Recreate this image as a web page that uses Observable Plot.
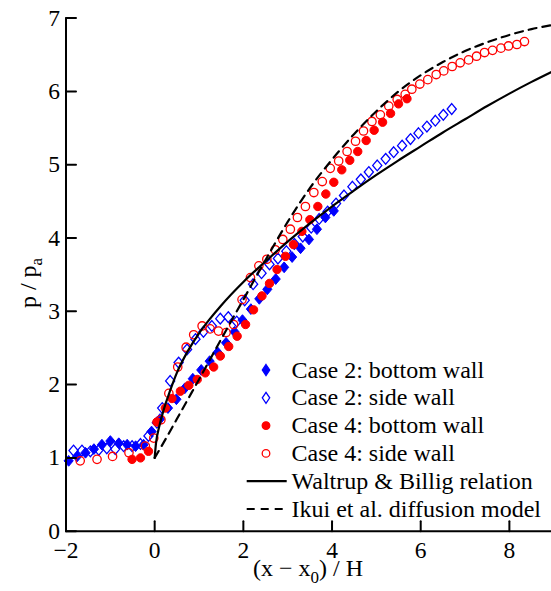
<!DOCTYPE html>
<html><head><meta charset="utf-8">
<script src="https://cdn.jsdelivr.net/npm/d3@7"></script>
<script src="https://cdn.jsdelivr.net/npm/@observablehq/plot@0.6"></script>
<style>
html,body{margin:0;padding:0;background:#fff;}
#wrap{position:relative;width:551px;height:591px;overflow:hidden;}
</style></head><body><div id="wrap"></div>
<script>
// ---- data ----
const xTicks = [-2, 0, 2, 4, 6, 8];
const yTicks = [0, 1, 2, 3, 4, 5, 6, 7];

const c2BottomX = [-1.94,-1.75,-1.56,-1.37,-1.19,-1.0,-0.81,-0.62,-0.43,-0.25,-0.07,0.12,0.3,0.49,0.68,0.86,1.05,1.24,1.42,1.61,1.8,1.98,2.17,2.36,2.54,2.73,2.92,3.1,3.29,3.48,3.66,3.85,4.04];
const c2BottomY = [0.96,1.02,1.07,1.12,1.18,1.23,1.2,1.18,1.16,1.18,1.36,1.53,1.68,1.8,1.95,2.08,2.2,2.32,2.44,2.57,2.72,2.88,3.03,3.17,3.3,3.44,3.6,3.74,3.86,3.98,4.12,4.28,4.37];

const c2SideX = [-1.83,-1.64,-1.45,-1.26,-1.08,-0.89,-0.7,-0.51,-0.32,-0.14,0.05,0.17,0.35,0.54,0.73,0.92,1.1,1.29,1.48,1.66,1.85,2.03,2.22,2.41,2.59,2.78,2.97,3.15,3.34,3.53,3.71,3.9,4.09,4.27,4.46,4.65,4.83,5.02,5.21,5.39,5.58,5.77,5.95,6.14,6.33,6.51,6.7];
const c2SideY = [1.1,1.1,1.09,1.11,1.13,1.12,1.16,1.16,1.19,1.3,1.48,1.68,2.05,2.3,2.48,2.62,2.72,2.8,2.9,2.92,2.86,3.15,3.37,3.52,3.64,3.72,3.82,3.92,4.02,4.14,4.26,4.36,4.47,4.58,4.7,4.8,4.9,4.99,5.08,5.17,5.26,5.35,5.43,5.52,5.6,5.68,5.76];

const c4BottomX = [-0.51,-0.32,-0.14,0.05,0.24,0.39,0.58,0.77,0.96,1.14,1.33,1.48,1.67,1.86,2.05,2.23,2.42,2.59,2.76,2.95,3.13,3.32,3.5,3.68,3.86,4.04,4.22,4.4,4.58,4.77,4.95,5.14,5.32,5.5,5.69];
const c4BottomY = [0.98,1.0,1.09,1.49,1.68,1.81,1.91,1.99,2.07,2.16,2.24,2.39,2.52,2.66,2.82,3.02,3.21,3.38,3.57,3.75,3.91,4.09,4.25,4.43,4.6,4.76,4.93,5.06,5.18,5.33,5.47,5.58,5.7,5.83,5.9];

const c4SideX = [-1.68,-1.3,-0.95,-0.58,-0.21,-0.02,0.14,0.32,0.52,0.71,0.88,1.07,1.25,1.44,1.61,1.78,1.97,2.16,2.35,2.53,2.72,2.89,3.06,3.22,3.4,3.59,3.78,3.96,4.15,4.34,4.53,4.71,4.9,5.09,5.28,5.47,5.65,5.8,5.98,6.16,6.35,6.52,6.71,6.89,7.08,7.26,7.44,7.62,7.81,7.98,8.17,8.34];
const c4SideY = [0.96,0.98,1.02,1.07,1.16,1.27,1.52,1.88,2.24,2.51,2.68,2.8,2.76,2.73,2.71,2.82,3.16,3.46,3.62,3.71,3.84,3.98,4.12,4.28,4.43,4.62,4.77,4.95,5.05,5.18,5.32,5.46,5.59,5.68,5.8,5.89,5.96,6.03,6.1,6.16,6.23,6.28,6.34,6.39,6.43,6.48,6.53,6.56,6.59,6.62,6.64,6.68];

const waltrupX = [0,0.03,0.1,0.2,0.35,0.5,0.75,1,1.25,1.5,2,2.5,3,3.5,4,4.5,5,5.5,6,6.5,7,7.5,8,8.5,9];
const waltrupY = [1.0,1.2,1.42,1.65,1.92,2.16,2.46,2.7,2.9,3.08,3.4,3.68,3.95,4.2,4.43,4.65,4.86,5.06,5.25,5.44,5.62,5.8,5.97,6.13,6.28];

const ikuiX = [0,0.25,0.5,0.75,1,1.5,2,2.5,3,3.5,4,4.5,5,5.5,6,6.5,7,7.5,8,8.5,9];
const ikuiY = [1.0,1.26,1.53,1.8,2.07,2.62,3.16,3.7,4.22,4.68,5.07,5.42,5.73,6.0,6.22,6.4,6.55,6.67,6.77,6.85,6.91];

const legendLabels = ["Case 2: bottom wall","Case 2: side wall","Case 4: bottom wall","Case 4: side wall","Waltrup & Billig relation","Ikui et al. diffusion model"];

// ---- styles ----
const BLUE = "#0000ff", RED = "#ff0000";
const FONT = '"Liberation Serif", "Times New Roman", serif';
const diamond = {draw(ctx, size){ const h = Math.sqrt(size)*0.66, w = h*0.85; ctx.moveTo(0,-h); ctx.lineTo(w,0); ctx.lineTo(0,h); ctx.lineTo(-w,0); ctx.closePath(); }};
const tickShape = {draw(ctx, l){ ctx.moveTo(0, 0); ctx.lineTo(0, -l); }};
const pts = (xs, ys) => xs.map((x, i) => ({x, y: ys[i]}));

const chart = Plot.plot({
  width: 551, height: 591,
  marginLeft: 65.5, marginRight: 0, marginTop: 17.6, marginBottom: 60.3,
  style: {fontFamily: FONT, fontSize: "23.5px", color: "black", background: "white", overflow: "visible"},
  x: {domain: [-2, 8.95]},
  y: {domain: [0, 7]},
  marks: [
    Plot.axisX(xTicks, {tickSize: 0, tickPadding: 10, label: null, fontSize: 23.5}),
    Plot.axisY(yTicks, {tickSize: 0, tickPadding: 6, label: null, fontSize: 23.5, tickFormat: d3.format("d")}),
    Plot.dot(pts(c2BottomX, c2BottomY), {x: "x", y: "y", symbol: diamond, r: 4.6, fill: BLUE, stroke: BLUE, strokeWidth: 1}),
    Plot.dot(pts(c2SideX, c2SideY), {x: "x", y: "y", symbol: diamond, r: 4.6, fill: "none", stroke: BLUE, strokeWidth: 1.3}),
    Plot.dot(pts(c4BottomX, c4BottomY), {x: "x", y: "y", r: 4.2, fill: RED, stroke: RED, strokeWidth: 1}),
    Plot.dot(pts(c4SideX, c4SideY), {x: "x", y: "y", r: 4.2, fill: "none", stroke: RED, strokeWidth: 1.3}),
    Plot.line(pts(waltrupX, waltrupY), {x: "x", y: "y", stroke: "black", strokeWidth: 2.2, curve: "monotone-x", clip: true}),
    Plot.line(pts(ikuiX, ikuiY), {x: "x", y: "y", stroke: "black", strokeWidth: 2.2, strokeDasharray: "8,6", curve: "monotone-x", clip: true}),
    // inward tick marks
    Plot.vector(xTicks, {x: d => d, y: () => 0, length: 10, rotate: 0, anchor: "start", shape: tickShape, stroke: "black", strokeWidth: 2}),
    Plot.vector(yTicks, {x: () => -2, y: d => d, length: 10, rotate: 90, anchor: "start", shape: tickShape, stroke: "black", strokeWidth: 2}),
    Plot.ruleX([-2], {strokeWidth: 2}),
    Plot.ruleY([0], {strokeWidth: 2})
  ]
});

const svg = d3.select(chart);
// axis labels
const yl = svg.append("text").attr("transform", "translate(36,283) rotate(-90)")
  .attr("text-anchor", "middle").attr("font-family", FONT).attr("font-size", 24).attr("fill", "black");
yl.append("tspan").text("p / p");
yl.append("tspan").attr("dy", 6).attr("font-size", 17).text("a");

const xl = svg.append("text").attr("x", 308).attr("y", 576)
  .attr("text-anchor", "middle").attr("font-family", FONT).attr("font-size", 24).attr("fill", "black");
xl.append("tspan").text("(x \u2212 x");
xl.append("tspan").attr("dy", 7).attr("font-size", 17).text("0");
xl.append("tspan").attr("dy", -7).text(") / H");

// legend
const lg = svg.append("g").attr("font-family", FONT).attr("font-size", 24).attr("text-anchor", "start");
const rowY = i => 370 + i * 27.8;
legendLabels.forEach((lab, i) => {
  const cy = rowY(i);
  const g = lg.append("g").attr("transform", `translate(0,${cy})`);
  if (i === 0 || i === 1) {
    g.append("path").attr("d", "M266,-5.5L269.7,0L266,5.5L262.3,0Z")
      .attr("fill", i === 0 ? BLUE : "none").attr("stroke", BLUE).attr("stroke-width", 1.3);
  } else if (i === 2 || i === 3) {
    g.append("circle").attr("cx", 266).attr("cy", 0).attr("r", 3.8)
      .attr("fill", i === 2 ? RED : "none").attr("stroke", RED).attr("stroke-width", 1.3);
  } else {
    g.append("line").attr("x1", 246.7).attr("x2", 286.7).attr("y1", 0).attr("y2", 0)
      .attr("stroke", "black").attr("stroke-width", 2.2)
      .attr("stroke-dasharray", i === 5 ? "8,6" : null);
  }
  g.append("text").attr("x", 291.5).attr("y", 7.5).attr("text-anchor", "start").attr("fill", "black").text(lab);
});

document.getElementById("wrap").appendChild(chart);
</script></body></html>
